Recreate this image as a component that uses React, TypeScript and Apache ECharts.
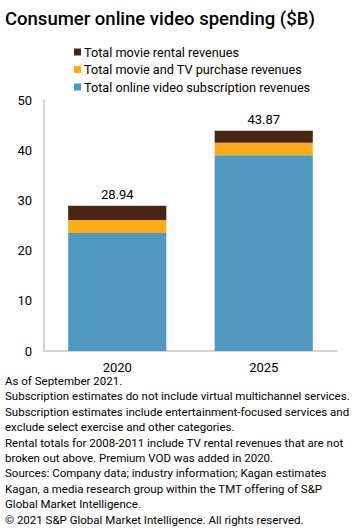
import React, { useEffect, useRef } from "react";
import * as echarts from "echarts";

const titleText = "Consumer online video spending ($B)";
const categories = ["2020", "2025"];
const seriesNames = [
  "Total online video subscription revenues",
  "Total movie and TV purchase revenues",
  "Total movie rental revenues",
];
const subscription = [23.5, 39.0];
const purchase = [2.6, 2.5];
const rental = [2.84, 2.37];
const totals = [28.94, 43.87];
const yTicks = { min: 0, max: 50, interval: 10 };
const footnotes = [
  "As of September 2021.",
  "Subscription estimates do not include virtual multichannel services.",
  "Subscription estimates include entertainment-focused services and",
  "exclude select exercise and other categories.",
  "Rental totals for 2008-2011 include TV rental revenues that are not",
  "broken out above. Premium VOD was added in 2020.",
  "Sources: Company data; industry information; Kagan estimates",
  "Kagan, a media research group within the TMT offering of S&P",
  "Global Market Intelligence.",
  "\u00a9 2021 S&P Global Market Intelligence. All rights reserved.",
];

const colors = ["#4f99c1", "#fcab1c", "#4a2515"];
const FONT = "Roboto, 'Liberation Sans', sans-serif";

export default function App() {
  const ref = useRef<HTMLDivElement>(null);
  useEffect(() => {
    if (!ref.current) return;
    const chart = echarts.init(ref.current, null, { renderer: "svg" });
    const data = [subscription, purchase, rental];
    chart.setOption({
      animation: false,
      textStyle: { fontFamily: FONT },
      title: {
        text: titleText,
        left: 0,
        top: 4,
        textStyle: { fontSize: 18.5, fontWeight: 500, color: "#000", fontFamily: FONT },
      },
      legend: {
        orient: "vertical",
        left: 74,
        top: 45,
        padding: 0,
        itemWidth: 7,
        itemHeight: 7,
        itemGap: 3.5,
        icon: "rect",
        data: [seriesNames[2], seriesNames[1], seriesNames[0]],
        textStyle: { fontSize: 12.7, lineHeight: 14, color: "#000", padding: [0, 0, 0, -2] },
      },
      grid: { left: 44, right: 15, top: 100, bottom: 177, containLabel: false },
      xAxis: {
        type: "category",
        data: categories,
        axisLine: { lineStyle: { color: "#d4d4d4", width: 2 } },
        axisTick: { show: false },
        axisLabel: { fontSize: 13, lineHeight: 13, color: "#000", margin: 10 },
      },
      yAxis: {
        type: "value",
        min: yTicks.min,
        max: yTicks.max,
        interval: yTicks.interval,
        axisLine: { show: true, lineStyle: { color: "#d4d4d4", width: 2 } },
        axisTick: { show: false },
        splitLine: { show: false },
        axisLabel: { fontSize: 13, color: "#000", margin: 12 },
      },
      series: seriesNames.map((name, i) => ({
        name,
        type: "bar",
        stack: "total",
        barWidth: "67%",
        itemStyle: { color: colors[i] },
        data: data[i],
        label:
          i === 2
            ? {
                show: true,
                position: "top",
                distance: 5,
                fontSize: 13,
                color: "#000",
                formatter: (p: any) => totals[p.dataIndex].toFixed(2),
              }
            : { show: false },
      })),
      graphic: footnotes.map((line, i) => ({
        type: "text",
        x: 5,
        y: 381 + i * 15.4,
        style: {
          text: line,
          fontSize: 11.5,
          lineHeight: 13,
          fill: "#000",
          fontFamily: FONT,
          verticalAlign: "middle",
        },
      })),
    });
    return () => chart.dispose();
  }, []);
  return <div ref={ref} style={{ width: 352, height: 528, position: "absolute", left: 0, top: 0 }} />;
}
